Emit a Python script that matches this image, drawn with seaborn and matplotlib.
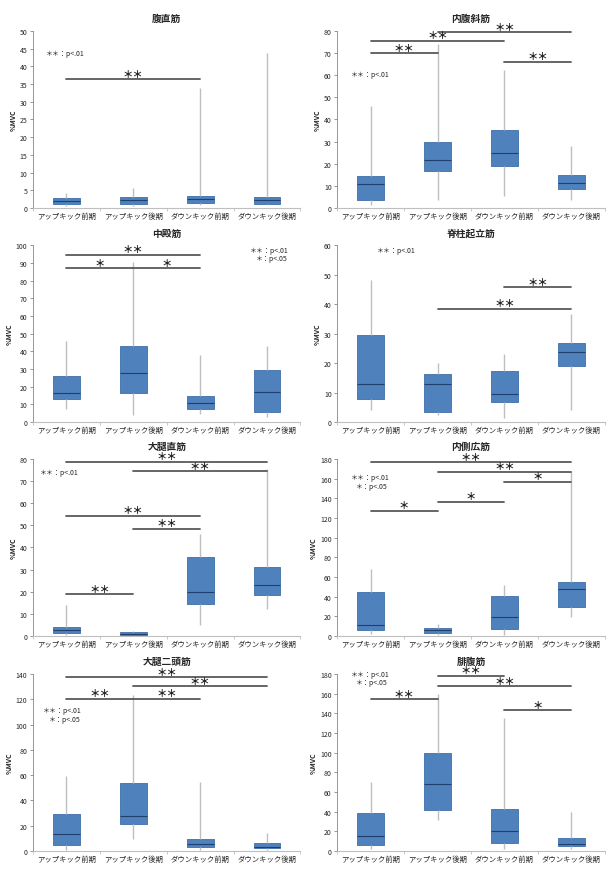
import numpy as np
import pandas as pd
import matplotlib
matplotlib.use("Agg")
import matplotlib.pyplot as plt
import seaborn as sns

# 群（横軸カテゴリ）
groups = ["アップキック前期", "アップキック後期", "ダウンキック前期", "ダウンキック後期"]

# 各筋の箱ひげ図の値 [最小, 第1四分位, 中央値, 第3四分位, 最大]
rect_abd = [[0.5, 1.1, 2.0, 2.8, 4.1], [0.5, 1.2, 2.3, 3.0, 5.6],
            [0.8, 1.4, 2.5, 3.3, 33.9], [0.8, 1.2, 2.3, 3.0, 43.8]]
int_obl = [[1.5, 3.5, 11.0, 14.3, 46.3], [3.5, 16.6, 21.9, 29.6, 74.0],
           [5.3, 18.9, 24.8, 35.3, 62.5], [3.6, 8.6, 11.2, 14.9, 27.9]]
glut_med = [[7.2, 12.9, 16.7, 26.1, 45.8], [4.2, 16.7, 27.7, 43.2, 90.5],
            [4.9, 7.4, 10.6, 14.6, 37.9], [3.0, 5.7, 16.9, 29.7, 43.0]]
erector = [[4.0, 7.8, 12.8, 29.4, 48.2], [2.3, 3.6, 13.0, 16.4, 20.1],
           [1.5, 6.7, 9.5, 17.5, 23.2], [4.0, 19.1, 23.7, 27.0, 36.8]]
rect_fem = [[0.3, 1.5, 2.6, 3.9, 13.9], [0.3, 0.6, 1.1, 1.7, 2.1],
            [4.8, 14.4, 20.0, 35.7, 46.1], [12.1, 18.3, 23.1, 31.0, 75.6]]
vast_med = [[2.4, 6.1, 11.2, 45.2, 68.3], [0.7, 3.1, 5.8, 8.5, 12.2],
            [1.0, 7.1, 19.0, 41.1, 52.0], [19.0, 29.2, 47.6, 54.7, 167.8]]
biceps_fem = [[0.8, 4.8, 13.8, 29.4, 59.0], [9.8, 21.4, 28.0, 54.0, 123.0],
              [1.0, 2.9, 5.3, 9.3, 54.2], [1.0, 2.1, 3.4, 6.6, 14.0]]
gastro = [[1.7, 6.5, 15.3, 38.4, 70.0], [31.6, 41.4, 68.6, 99.9, 159.6],
          [1.7, 8.5, 20.7, 43.1, 135.5], [1.7, 4.8, 6.8, 13.6, 39.4]]

# 有意差の線 (群i, 群j, 高さ, 記号)
sig_rect_abd = [(0, 2, 36.4, "＊＊")]
sig_int_obl = [(0, 1, 70.0, "＊＊"), (0, 2, 75.5, "＊＊"), (1, 3, 79.5, "＊＊"), (2, 3, 66.0, "＊＊")]
sig_glut_med = [(0, 2, 94.7, "＊＊"), (0, 1, 87.0, "＊"), (1, 2, 87.0, "＊")]
sig_erector = [(1, 3, 38.5, "＊＊"), (2, 3, 45.7, "＊＊")]
sig_rect_fem = [(0, 1, 18.9, "＊＊"), (1, 2, 48.4, "＊＊"), (0, 2, 54.3, "＊＊"),
                (1, 3, 74.4, "＊＊"), (0, 3, 78.7, "＊＊")]
sig_vast_med = [(0, 1, 127.4, "＊"), (1, 2, 136.5, "＊"), (2, 3, 157.0, "＊"),
                (1, 3, 167.0, "＊＊"), (0, 3, 176.6, "＊＊")]
sig_biceps_fem = [(0, 1, 120.4, "＊＊"), (1, 2, 120.4, "＊＊"), (1, 3, 130.5, "＊＊"), (0, 3, 137.6, "＊＊")]
sig_gastro = [(0, 1, 154.5, "＊＊"), (1, 2, 178.0, "＊＊"), (1, 3, 167.5, "＊＊"), (2, 3, 143.3, "＊")]

# 凡例 (x位置[カテゴリ単位], y, 文字)
leg_rect_abd = [(-0.3, 43.8, "＊＊：p<.01")]
leg_int_obl = [(-0.3, 60.5, "＊＊：p<.01")]
leg_glut_med = [(2.75, 97.5, "＊＊：p<.01"), (2.83, 92.8, "＊：p<.05")]
leg_erector = [(0.1, 58.5, "＊＊：p<.01")]
leg_rect_fem = [(-0.4, 74.0, "＊＊：p<.01")]
leg_vast_med = [(-0.3, 161.7, "＊＊：p<.01"), (-0.22, 152.8, "＊：p<.05")]
leg_biceps_fem = [(-0.35, 111.7, "＊＊：p<.01"), (-0.27, 104.5, "＊：p<.05")]
leg_gastro = [(-0.3, 180.0, "＊＊：p<.01"), (-0.22, 171.5, "＊：p<.05")]

panels = [
    ("腹直筋", rect_abd, sig_rect_abd, leg_rect_abd, 50, 5),
    ("内腹斜筋", int_obl, sig_int_obl, leg_int_obl, 80, 10),
    ("中殿筋", glut_med, sig_glut_med, leg_glut_med, 100, 10),
    ("脊柱起立筋", erector, sig_erector, leg_erector, 60, 10),
    ("大腿直筋", rect_fem, sig_rect_fem, leg_rect_fem, 80, 10),
    ("内側広筋", vast_med, sig_vast_med, leg_vast_med, 180, 20),
    ("大腿二頭筋", biceps_fem, sig_biceps_fem, leg_biceps_fem, 140, 20),
    ("腓腹筋", gastro, sig_gastro, leg_gastro, 180, 20),
]

sns.set_style("white")
plt.rcParams['font.family'] = ['Noto Sans CJK JP', 'DejaVu Sans']

fig = plt.figure(figsize=(6.12, 8.78), dpi=100)

lefts = [0.054, 0.551]
bottoms = [0.762, 0.518, 0.2745, 0.0296]
w = 0.437
h = 0.2016

for k, (title, stats, sigs, legs, ymax, ystep) in enumerate(panels):
    ax = fig.add_axes([lefts[k % 2], bottoms[k // 2], w, h])
    df = pd.DataFrame([(g, v) for g, s in zip(groups, stats) for v in s],
                      columns=["群", "val"])
    sns.boxplot(data=df, x="群", y="val", order=groups, ax=ax, whis=(0, 100),
                width=0.4, showcaps=False, showfliers=False,
                boxprops=dict(facecolor="#4f81bd", edgecolor="#3d6ea8", linewidth=0.6),
                medianprops=dict(color="#1f3f6e", linewidth=0.8),
                whiskerprops=dict(color="#bfbfbf", linewidth=1.0))
    ax.set_xlim(-0.5, 3.5)
    ax.set_ylim(0, ymax)
    ax.set_yticks(np.arange(0, ymax + 0.1, ystep))
    ax.set_xlabel("")
    ax.set_ylabel("%MVC", fontsize=5, fontweight="bold", labelpad=2)
    ax.set_title(title, fontsize=7, fontweight="bold", pad=7)
    ax.tick_params(axis="y", labelsize=5, length=2, width=0.6, color="#868686", pad=2,
                   left=True)
    ax.tick_params(axis="x", labelsize=5.3, length=0, pad=3)
    ax.set_xticks([-0.5, 0.5, 1.5, 2.5, 3.5], minor=True)
    ax.tick_params(axis="x", which="minor", length=2.5, width=0.6, color="#bfbfbf",
                   bottom=True)
    for sp in ["top", "right"]:
        ax.spines[sp].set_visible(False)
    ax.spines["left"].set_color("#868686")
    ax.spines["bottom"].set_color("#bfbfbf")
    ax.spines["left"].set_linewidth(0.6)
    ax.spines["bottom"].set_linewidth(0.8)

    for i, j, y, mark in sigs:
        ax.plot([i, j], [y, y], color="#595959", lw=1.3, clip_on=False)
        ax.text((i + j) / 2, y + ymax * 0.003, mark, ha="center", va="bottom",
                fontsize=7.5, fontweight="bold", color="#222222")
    for x, y, txt in legs:
        ax.text(x, y, txt, ha="left", va="center", fontsize=5, color="#222222",
                clip_on=False)

fig.savefig("out.png", dpi=100)
